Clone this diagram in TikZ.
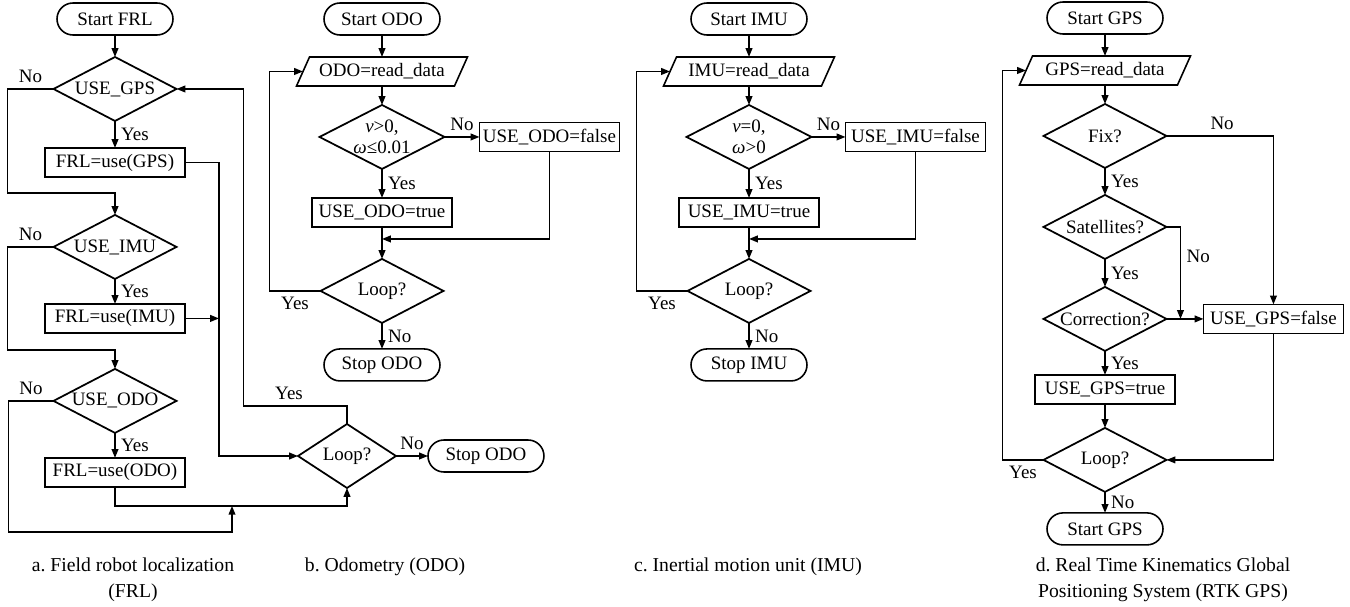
\documentclass[tikz,border=0pt]{standalone}
\usepackage{fontspec}
\setmainfont{Liberation Serif}
\usetikzlibrary{shapes.geometric, shapes.misc, arrows.meta, positioning, calc}
\tikzset{
  fcflow/.style={-{Triangle[length=5pt, width=3.8pt]}, line width=0.9pt},
  lbl/.style={inner sep=3pt},
}
\newcommand{\ioframe}[1]{%
  \draw[line width=0.9pt]([xshift=-0.13cm]#1.south west)--([xshift=0.13cm]#1.north west)
    --([xshift=0.13cm]#1.north east)--([xshift=-0.13cm]#1.south east)--cycle;}
\frenchspacing

\begin{document}
\begin{tikzpicture}[x=0.02cm, y=-0.02cm, font=\fontsize{10.8}{12}\selectfont,
  startstop/.style={rounded rectangle, draw, line width=0.9pt, minimum width=2.32cm,
               minimum height=0.64cm, inner sep=0pt, outer sep=0pt},
  procbox/.style={rectangle, draw, line width=0.9pt, minimum width=2.8cm,
               minimum height=0.58cm, inner sep=0pt, outer sep=0pt},
  iobox/.style={rectangle, minimum width=3.16cm, minimum height=0.58cm,
               inner sep=0pt, outer sep=0pt},
  decide/.style={diamond, shape aspect=2, draw, line width=1pt, minimum width=2.46cm,
               minimum height=1.28cm, inner sep=0pt, outer sep=0pt, align=center},
  caption/.style={font=\fontsize{11.2}{14.7}\selectfont, align=center}]
  \useasboundingbox (0,0) rectangle (1350,607);

  % a. FRL
  \node[startstop](startF) at (115,19){Start FRL};
  \node[decide, below=0.44cm of startF](gpsF){USE\_GPS};
  \node[procbox, below=0.54cm of gpsF](gpsuF){FRL=use(GPS)};
  \node[decide, below=0.76cm of gpsuF](imuF){USE\_IMU};
  \node[procbox, below=0.5cm of imuF](imuuF){FRL=use(IMU)};
  \node[decide, below=0.72cm of imuuF](odoF){USE\_ODO};
  \node[procbox, below=0.5cm of odoF](odouF){FRL=use(ODO)};
  \node[decide, minimum width=1.96cm](loopF) at (347,456){Loop?};
  \node[startstop, right=0.64cm of loopF](stopF){Stop ODO};
  \draw[fcflow](startF)--(gpsF);
  \draw[fcflow](gpsF)--node[lbl, right]{Yes}(gpsuF);
  \draw[fcflow](gpsF.west)--++(-46,0) node[lbl, above, midway]{No}
    |-($(imuF.north)+(0,-22)$)--(imuF.north);
  \draw[fcflow](imuF)--node[lbl, right]{Yes}(imuuF);
  \draw[fcflow](imuF.west)--++(-46,0) node[lbl, above, midway]{No}
    |-($(odoF.north)+(0,-19)$)--(odoF.north);
  \draw[fcflow](odoF)--node[lbl, right]{Yes}(odouF);
  \draw[fcflow](gpsuF.east)--++(34,0) coordinate(cF) |-(loopF.west);
  \draw[fcflow](imuuF.east)--(imuuF.east -| cF);
  \draw[fcflow](odouF.south)--++(0,19) coordinate(bF) -|(loopF.south);
  \draw[fcflow](odoF.west)--++(-45,0) node[lbl, above, midway]{No}
    |-($(bF)+(117,26)$)--($(bF)+(117,0)$);
  \draw[fcflow](loopF.north)--++(0,-18) -|node[lbl, above, pos=0.28]{Yes}
    ($(gpsF.east)+(67,0)$)--(gpsF.east);
  \draw[fcflow](loopF)--node[lbl, above]{No}(stopF);
  \node[caption](capF) at (133,580){a. Field robot localization\\(FRL)};

  % b. ODO
  \node[startstop](startO) at (382,19){Start ODO};
  \node[iobox, below=0.44cm of startO](readO){ODO=read\_data};
  \ioframe{readO}
  \node[decide, minimum width=2.5cm, below=0.38cm of readO](condO){\textit{v}>0,\\\textit{ω}≤0.01};
  \node[procbox, below=0.58cm of condO](trueO){USE\_ODO=true};
  \node[decide, below=0.64cm of trueO](loopO){Loop?};
  \node[startstop, below=0.52cm of loopO](stopO){Stop ODO};
  \node[procbox, right=0.7cm of condO](falseO){USE\_ODO=false};
  \draw[fcflow](startO)--(readO);
  \draw[fcflow](readO)--(condO);
  \draw[fcflow](condO)--node[lbl, right]{Yes}(trueO);
  \draw[fcflow](condO)--node[lbl, above]{No}(falseO);
  \draw[fcflow](trueO)--(loopO);
  \draw[fcflow](falseO.south)|-($(trueO.south)!0.375!(loopO.north)$);
  \draw[fcflow](loopO.west)--++(-51,0) node[lbl, below, midway]{Yes}|-(readO.west);
  \draw[fcflow](loopO)--node[lbl, right]{No}(stopO);
  \node[caption](capO) at (385,567){b. Odometry (ODO)};

  % c. IMU
  \node[startstop](startI) at (749,19){Start IMU};
  \node[iobox, below=0.44cm of startI](readI){IMU=read\_data};
  \ioframe{readI}
  \node[decide, minimum width=2.5cm, below=0.38cm of readI](condI){\textit{v}=0,\\\textit{ω}>0};
  \node[procbox, below=0.58cm of condI](trueI){USE\_IMU=true};
  \node[decide, below=0.64cm of trueI](loopI){Loop?};
  \node[startstop, below=0.52cm of loopI](stopI){Stop IMU};
  \node[procbox, right=0.68cm of condI](falseI){USE\_IMU=false};
  \draw[fcflow](startI)--(readI);
  \draw[fcflow](readI)--(condI);
  \draw[fcflow](condI)--node[lbl, right]{Yes}(trueI);
  \draw[fcflow](condI)--node[lbl, above]{No}(falseI);
  \draw[fcflow](trueI)--(loopI);
  \draw[fcflow](falseI.south)|-($(trueI.south)!0.375!(loopI.north)$);
  \draw[fcflow](loopI.west)--++(-51,0) node[lbl, below, midway]{Yes}|-(readI.west);
  \draw[fcflow](loopI)--node[lbl, right]{No}(stopI);
  \node[caption](capI) at (748,567){c. Inertial motion unit (IMU)};

  % d. RTK GPS
  \node[startstop](startG) at (1105,18){Start GPS};
  \node[iobox, below=0.44cm of startG](readG){GPS=read\_data};
  \ioframe{readG}
  \node[decide, below=0.38cm of readG](fixG){Fix?};
  \node[decide, below=0.54cm of fixG](satG){Satellites?};
  \node[decide, below=0.56cm of satG](corG){Correction?};
  \node[procbox, below=0.48cm of corG](trueG){USE\_GPS=true};
  \node[decide, below=0.48cm of trueG](loopG){Loop?};
  \node[startstop, below=0.42cm of loopG](stopG){Start GPS};
  \node[procbox, right=0.74cm of corG](falseG){USE\_GPS=false};
  \draw[fcflow](startG)--(readG);
  \draw[fcflow](readG)--(fixG);
  \draw[fcflow](fixG)--node[lbl, right]{Yes}(satG);
  \draw[fcflow](satG)--node[lbl, right]{Yes}(corG);
  \draw[fcflow](corG)--node[lbl, right]{Yes}(trueG);
  \draw[fcflow](trueG)--(loopG);
  \draw[fcflow](loopG)--node[lbl, right]{No}(stopG);
  \draw[fcflow](corG)--(falseG);
  \draw[fcflow](fixG.east)-|node[lbl, above, pos=0.26]{No}(falseG.north);
  \draw[fcflow](satG.east)-|node[lbl, right, pos=0.66]{No}($(corG.east)+(14,0)$);
  \draw[fcflow](falseG.south)|-(loopG.east);
  \draw[fcflow](loopG.west)--++(-41,0) node[lbl, below, midway]{Yes}|-(readG.west);
  \node[caption](capG) at (1163,580){d. Real Time Kinematics Global\\Positioning System (RTK GPS)};
\end{tikzpicture}
\end{document}
